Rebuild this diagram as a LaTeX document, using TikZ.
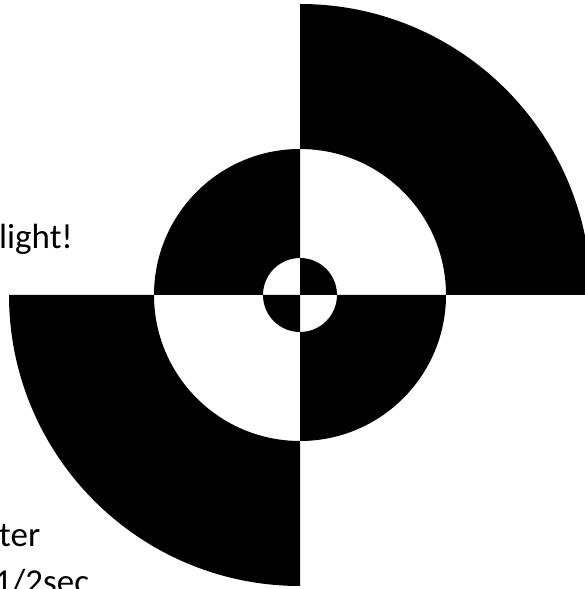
\documentclass[tikz,border=0pt]{standalone}
\usepackage{fontspec}
\setmainfont{Carlito}
\begin{document}
\begin{tikzpicture}[x=1pt,y=1pt,
  blk/.style={fill=black,draw=none},
  lbl/.style={font=\fontsize{35}{42}\selectfont,inner sep=0pt,anchor=base west}]
\useasboundingbox (0,0) rectangle (585,589);
\clip (0,0) rectangle (585,589);
\fill[white] (0,0) rectangle (585,589);
\coordinate (c) at (300,294);
% outer ring: upper-right and lower-left
\fill[blk] ([xshift=146]c) -- ([xshift=291]c) arc[start angle=0,end angle=90,radius=291] -- ([yshift=146]c) arc[start angle=90,end angle=0,radius=146] -- cycle;
\fill[blk] ([xshift=-146]c) -- ([xshift=-291]c) arc[start angle=180,end angle=270,radius=291] -- ([yshift=-146]c) arc[start angle=270,end angle=180,radius=146] -- cycle;
% middle ring: upper-left and lower-right
\fill[blk] ([xshift=-37]c) -- ([xshift=-146]c) arc[start angle=180,end angle=90,radius=146] -- ([yshift=37]c) arc[start angle=90,end angle=180,radius=37] -- cycle;
\fill[blk] ([xshift=37]c) -- ([xshift=146]c) arc[start angle=0,end angle=-90,radius=146] -- ([yshift=-37]c) arc[start angle=-90,end angle=0,radius=37] -- cycle;
% inner disc: upper-right and lower-left
\fill[blk] (c) -- ([xshift=37]c) arc[start angle=0,end angle=90,radius=37] -- cycle;
\fill[blk] (c) -- ([xshift=-37]c) arc[start angle=180,end angle=270,radius=37] -- cycle;
% texts
\node[lbl] (t1) at (-1,340) {light!};
\node[lbl] (t2) at (-1,42) {ter};
\node[lbl] (t3) at (-6,-5) {1/2sec};
\end{tikzpicture}
\end{document}
